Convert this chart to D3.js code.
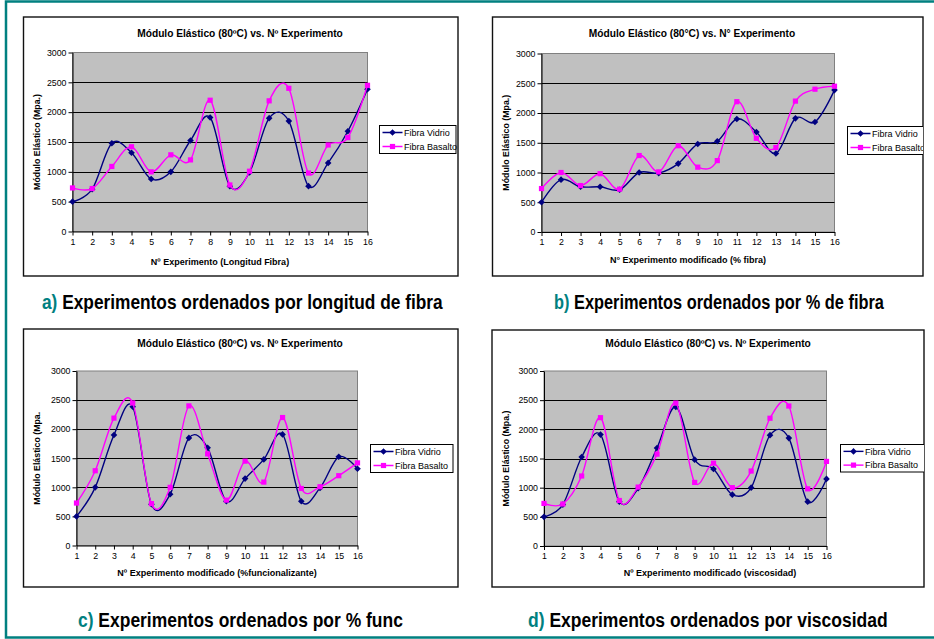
<!DOCTYPE html>
<html>
<head>
<meta charset="utf-8">
<script src="https://cdn.jsdelivr.net/npm/d3@7"></script>
<style>
  body { margin: 0; background: #fff; }
  svg { display: block; }
  text { font-family: "Liberation Sans", Arial, sans-serif; }
</style>
</head>
<body>
<svg id="chart" width="934" height="639"></svg>
<script>
// categories: experiment number on the x axis
const experimentos = [1, 2, 3, 4, 5, 6, 7, 8, 9, 10, 11, 12, 13, 14, 15, 16];
const yTicks = [0, 500, 1000, 1500, 2000, 2500, 3000];

// a) ordered by fibre length
const vidrioA = [500, 710, 1480, 1320, 880, 1000, 1525, 1910, 760, 990, 1900, 1850, 760, 1150, 1680, 2385];
const basaltoA = [730, 720, 1090, 1420, 1000, 1285, 1200, 2200, 780, 1010, 2190, 2400, 980, 1450, 1575, 2450];
// b) ordered by % fibre
const vidrioB = [500, 880, 760, 760, 710, 1000, 990, 1150, 1480, 1525, 1900, 1680, 1320, 1910, 1850, 2385];
const basaltoB = [730, 1000, 780, 980, 720, 1285, 1010, 1450, 1090, 1200, 2190, 1575, 1420, 2200, 2400, 2450];
// c) ordered by % functionaliser
const vidrioC = [500, 1000, 1900, 2385, 710, 880, 1850, 1680, 760, 1150, 1480, 1910, 760, 990, 1525, 1320];
const basaltoC = [730, 1285, 2190, 2450, 720, 1000, 2400, 1575, 780, 1450, 1090, 2200, 980, 1010, 1200, 1420];
// d) ordered by viscosity
const vidrioD = [500, 710, 1525, 1910, 760, 990, 1680, 2385, 1480, 1320, 880, 1000, 1900, 1850, 760, 1150];
const basaltoD = [730, 720, 1200, 2200, 780, 1010, 1575, 2450, 1090, 1420, 1000, 1285, 2190, 2400, 980, 1450];

const seriesNames = ['Fibra Vidrio', 'Fibra Basalto'];
const titles = [
  'Módulo Elástico (80ºC) vs. Nº Experimento',
  'Módulo Elástico (80°C) vs. N° Experimento',
  'Módulo Elástico (80ºC) vs. Nº Experimento',
  'Módulo Elástico (80ºC) vs. Nº Experimento'
];
const xLabels = [
  'Nº Experimento (Longitud Fibra)',
  'N° Experimento modificado (% fibra)',
  'Nº Experimento modificado (%funcionalizante)',
  'Nº Experimento modificado (viscosidad)'
];
const yLabels = ['Módulo Elástico (Mpa.)', 'Módulo Elástico (Mpa.)', 'Módulo Elástico (Mpa.', 'Módulo Elástico (Mpa.)'];
const captionLetters = ['a)', 'b)', 'c)', 'd)'];
const captionTexts = [
  ' Experimentos ordenados por longitud de fibra',
  ' Experimentos ordenados por % de fibra',
  ' Experimentos ordenados por % func',
  ' Experimentos ordenados por viscosidad'
];

const VIDRIO = '#000080';
const BASALTO = '#ff00ff';
const TEAL = '#008080';

const svg = d3.select('#chart');

// outer teal border
svg.append('rect')
  .attr('x', 6).attr('y', 1.5)
  .attr('width', 940).attr('height', 636)
  .attr('fill', 'none').attr('stroke', TEAL).attr('stroke-width', 2.5);

const layouts = [
  { frame: [23.5, 17, 458, 276], plot: [72.5, 52.5, 367.5, 231.5], legend: [379.5, 125.5, 456, 153.5], titleX: 240, titleY: 36.5, yLabelX: 40, xLabelX: 220, xLabelY: 265, capX: 42, capW: 401, capY: 309 },
  { frame: [492.5, 17, 923, 276], plot: [541.5, 53.5, 834.5, 232], legend: [847.5, 126.5, 926, 154.5], titleX: 692, titleY: 36.5, yLabelX: 509, xLabelX: 688, xLabelY: 263, capX: 554, capW: 330, capY: 309 },
  { frame: [23.5, 329, 458, 587], plot: [76.5, 371, 357.5, 545.5], legend: [370.5, 444.5, 453, 472.5], titleX: 240, titleY: 347, yLabelX: 40, xLabelX: 217, xLabelY: 576, capX: 78, capW: 325, capY: 627 },
  { frame: [492, 330, 924, 587], plot: [544, 371, 826.5, 546], legend: [840.5, 444.5, 926, 472], titleX: 708, titleY: 347, yLabelX: 509, xLabelX: 710, xLabelY: 576, capX: 528, capW: 360, capY: 627 }
];

const panels = [
  { vidrio: vidrioA, basalto: basaltoA },
  { vidrio: vidrioB, basalto: basaltoB },
  { vidrio: vidrioC, basalto: basaltoC },
  { vidrio: vidrioD, basalto: basaltoD }
].map((p, i) => Object.assign(p, layouts[i], {
  title: titles[i], xLabel: xLabels[i], yLabel: yLabels[i],
  capLetter: captionLetters[i], capText: captionTexts[i], id: i
}));

const diamond = r => `M0,${-r}L${r},0L0,${r}L${-r},0Z`;

function drawMarker(g, cx, cy, kind) {
  if (kind === 0) {
    g.append('path').attr('d', diamond(3.3))
      .attr('transform', `translate(${cx},${cy})`)
      .attr('fill', VIDRIO);
  } else {
    g.append('rect').attr('x', cx - 2.6).attr('y', cy - 2.6)
      .attr('width', 5.2).attr('height', 5.2).attr('fill', BASALTO);
  }
}

function drawPanel(p) {
  const [fx0, fy0, fx1, fy1] = p.frame;
  const [px0, py0, px1, py1] = p.plot;
  const g = svg.append('g');

  g.append('clipPath').attr('id', `clip${p.id}`)
    .append('rect').attr('x', fx0).attr('y', fy0).attr('width', fx1 - fx0).attr('height', fy1 - fy0);

  g.append('rect')
    .attr('x', fx0).attr('y', fy0).attr('width', fx1 - fx0).attr('height', fy1 - fy0)
    .attr('fill', '#fff').attr('stroke', '#111').attr('stroke-width', 1.4);

  const x = d3.scalePoint().domain(experimentos).range([px0, px1]);
  const y = d3.scaleLinear().domain([0, 3000]).range([py1, py0]);

  g.append('rect')
    .attr('x', px0).attr('y', py0).attr('width', px1 - px0).attr('height', py1 - py0)
    .attr('fill', '#c0c0c0').attr('stroke', '#808080');

  g.append('g').selectAll('line')
    .data(yTicks.filter(v => v > 0 && v < 3000))
    .join('line')
    .attr('x1', px0).attr('x2', px1)
    .attr('y1', d => Math.round(y(d)) + 0.5).attr('y2', d => Math.round(y(d)) + 0.5)
    .attr('stroke', '#000');

  const yAxis = g.append('g')
    .attr('transform', `translate(${px0},0)`)
    .call(d3.axisLeft(y).tickValues(yTicks).tickFormat(d3.format('d'))
      .tickSize(4).tickSizeOuter(0).tickPadding(2));
  const xAxis = g.append('g')
    .attr('transform', `translate(0,${py1})`)
    .call(d3.axisBottom(x).tickSize(4).tickSizeOuter(0).tickPadding(3));
  [yAxis, xAxis].forEach(a => {
    a.attr('font-family', null).attr('font-size', null);
    a.selectAll('text').attr('font-size', 8.8).attr('fill', '#000');
    a.selectAll('line,path').attr('stroke', '#000');
  });

  const line = d3.line()
    .x((d, i) => x(experimentos[i]))
    .y(d => y(d))
    .curve(d3.curveCardinal.tension(0));

  [p.vidrio, p.basalto].forEach((vals, k) => {
    g.append('path').datum(vals)
      .attr('d', line)
      .attr('fill', 'none')
      .attr('stroke', k === 0 ? VIDRIO : BASALTO)
      .attr('stroke-width', 1.4);
    vals.forEach((v, i) => drawMarker(g, x(experimentos[i]), y(v), k));
  });

  g.append('text')
    .attr('x', p.titleX).attr('y', p.titleY)
    .attr('text-anchor', 'middle')
    .attr('font-size', 10.2).attr('font-weight', 'bold')
    .text(p.title);

  g.append('text')
    .attr('transform', `translate(${p.yLabelX},${(py0 + py1) / 2}) rotate(-90)`)
    .attr('text-anchor', 'middle')
    .attr('font-size', 8.8).attr('font-weight', 'bold')
    .text(p.yLabel);

  g.append('text')
    .attr('x', p.xLabelX).attr('y', p.xLabelY)
    .attr('text-anchor', 'middle')
    .attr('font-size', 9).attr('font-weight', 'bold')
    .text(p.xLabel);

  // legend
  const [lx0, ly0, lx1, ly1] = p.legend;
  const lg = g.append('g').attr('clip-path', `url(#clip${p.id})`);
  lg.append('rect')
    .attr('x', lx0).attr('y', ly0).attr('width', lx1 - lx0).attr('height', ly1 - ly0)
    .attr('fill', '#fff').attr('stroke', '#000');
  const rowH = (ly1 - ly0) / 2;
  seriesNames.forEach((name, k) => {
    const cy = ly0 + rowH * (k + 0.5);
    lg.append('line')
      .attr('x1', lx0 + 3).attr('x2', lx0 + 23)
      .attr('y1', cy).attr('y2', cy)
      .attr('stroke', k === 0 ? VIDRIO : BASALTO).attr('stroke-width', 1.4);
    drawMarker(lg, lx0 + 13, cy, k);
    lg.append('text')
      .attr('x', lx0 + 24.5).attr('y', cy + 3.2)
      .attr('font-size', 9)
      .text(name);
  });

  // caption under the panel (condensed bold look by horizontal scaling)
  const cap = svg.append('text')
    .attr('x', 0).attr('y', 0)
    .attr('font-size', 20).attr('font-weight', 'bold')
    .style('font-family', '"Liberation Sans Narrow", "Arial Narrow", "Liberation Sans", sans-serif');
  cap.append('tspan').attr('fill', TEAL).text(p.capLetter);
  cap.append('tspan').attr('fill', '#000').text(p.capText);
  const w = cap.node().getComputedTextLength();
  cap.attr('transform', `translate(${p.capX},${p.capY}) scale(${p.capW / w},1)`);
}

panels.forEach(drawPanel);
</script>
</body>
</html>
